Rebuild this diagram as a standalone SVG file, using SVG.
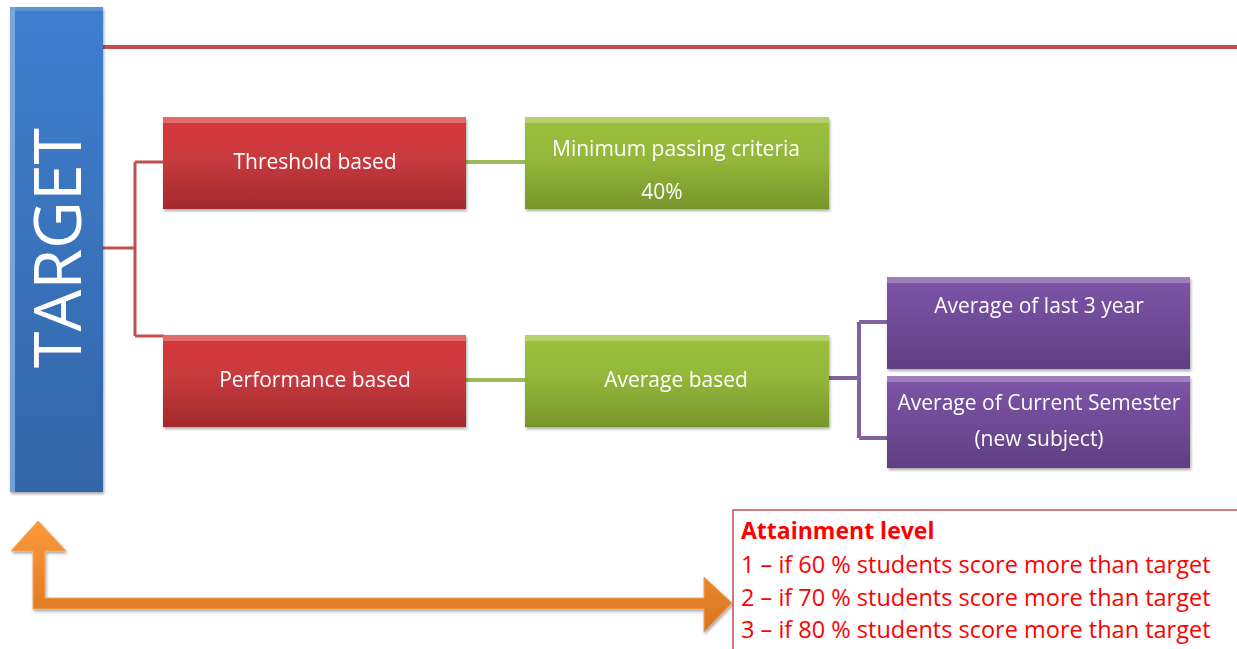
<svg xmlns="http://www.w3.org/2000/svg" width="1237" height="649" viewBox="0 0 1237 649">
  <style>
    .lbl { font-family: "Open Sans", "Liberation Sans", sans-serif; font-size: 21px; fill: #ffffff; text-anchor: middle; }
    .big { font-family: "Open Sans", "Liberation Sans", sans-serif; font-size: 66px; fill: #ffffff; text-anchor: middle; }
    .att { font-family: "Open Sans", "Liberation Sans", sans-serif; font-size: 23.5px; fill: #ff0000; }
    .attb { font-weight: bold; font-size: 23px; }
    .edge-red { fill: none; stroke: #c0504d; stroke-width: 3; }
    .edge-green { fill: none; stroke: #9bbb59; stroke-width: 4; }
    .edge-purple { fill: none; stroke: #8064a2; stroke-width: 4; }
    .hi { fill: #ffffff; opacity: 0.25; }
  </style>
  <defs>
    <linearGradient id="gBlue" x1="0" y1="0" x2="0" y2="1">
      <stop offset="0" stop-color="#3f7fcf"/>
      <stop offset="1" stop-color="#3366a8"/>
    </linearGradient>
    <linearGradient id="gRed" x1="0" y1="0" x2="0" y2="1">
      <stop offset="0" stop-color="#d8383a"/>
      <stop offset="0.45" stop-color="#c83a3e"/>
      <stop offset="1" stop-color="#a12a2c"/>
    </linearGradient>
    <linearGradient id="gGreen" x1="0" y1="0" x2="0" y2="1">
      <stop offset="0" stop-color="#9cc13b"/>
      <stop offset="0.45" stop-color="#93b73a"/>
      <stop offset="1" stop-color="#77962b"/>
    </linearGradient>
    <linearGradient id="gPurple" x1="0" y1="0" x2="0" y2="1">
      <stop offset="0" stop-color="#7d55a8"/>
      <stop offset="0.45" stop-color="#714c98"/>
      <stop offset="1" stop-color="#5e3f82"/>
    </linearGradient>
    <linearGradient id="gOrange" x1="0" y1="0" x2="0" y2="1">
      <stop offset="0" stop-color="#fb9a3a"/>
      <stop offset="1" stop-color="#d8741f"/>
    </linearGradient>
    <filter id="shadow" x="-10%" y="-10%" width="120%" height="130%">
      <feGaussianBlur in="SourceAlpha" stdDeviation="1.5"/>
      <feOffset dx="1" dy="2" result="b"/>
      <feComponentTransfer><feFuncA type="linear" slope="0.35"/></feComponentTransfer>
      <feMerge><feMergeNode/><feMergeNode in="SourceGraphic"/></feMerge>
    </filter>
  </defs>

  <!-- top rule -->
  <line x1="103" y1="47" x2="1237" y2="47" stroke="#c0504d" stroke-width="4"/>

  <!-- connectors -->
  <g id="connectors">
    <path class="edge-red" d="M103 248 H135 M135 162 V336 M135 162 H164 M135 336 H164"/>
    <line class="edge-green" x1="466" y1="162" x2="525" y2="162"/>
    <line class="edge-green" x1="466" y1="380" x2="525" y2="380"/>
    <path class="edge-purple" d="M829 378 H859 M859 322 V438 M859 322 H887 M859 438 H887"/>
  </g>

  <g id="target" filter="url(#shadow)">
    <rect x="10" y="7" width="93" height="485" fill="url(#gBlue)"/>
    <rect x="10" y="7" width="5" height="485" fill="#8fb9ec" opacity="0.7"/>
    <rect x="10" y="7" width="93" height="4" fill="#6f9fdc" opacity="0.6"/>
    <text class="big" transform="translate(81 248) rotate(-90)">TARGET</text>
  </g>

  <g id="threshold" filter="url(#shadow)">
    <rect x="163" y="117" width="303" height="92" fill="url(#gRed)"/>
    <rect class="hi" x="163" y="117" width="303" height="6"/>
    <text class="lbl" x="315" y="169">Threshold based</text>
  </g>

  <g id="performance" filter="url(#shadow)">
    <rect x="163" y="335" width="303" height="92" fill="url(#gRed)"/>
    <rect class="hi" x="163" y="335" width="303" height="6"/>
    <text class="lbl" x="315" y="387">Performance based</text>
  </g>

  <g id="minimum" filter="url(#shadow)">
    <rect x="525" y="117" width="304" height="92" fill="url(#gGreen)"/>
    <rect class="hi" x="525" y="117" width="304" height="6"/>
    <text class="lbl" x="676" y="156">Minimum passing criteria</text>
    <text class="lbl" x="662" y="199">40%</text>
  </g>

  <g id="average" filter="url(#shadow)">
    <rect x="525" y="335" width="304" height="92" fill="url(#gGreen)"/>
    <rect class="hi" x="525" y="335" width="304" height="6"/>
    <text class="lbl" x="676" y="387">Average based</text>
  </g>

  <g id="last3" filter="url(#shadow)">
    <rect x="887" y="277" width="303" height="92" fill="url(#gPurple)"/>
    <rect class="hi" x="887" y="277" width="303" height="6"/>
    <text class="lbl" x="1039" y="313">Average of last 3 year</text>
  </g>

  <g id="current" filter="url(#shadow)">
    <rect x="887" y="376" width="303" height="92" fill="url(#gPurple)"/>
    <rect class="hi" x="887" y="376" width="303" height="6"/>
    <text class="lbl" x="1039" y="410">Average of Current Semester</text>
    <text class="lbl" x="1039" y="446">(new subject)</text>
  </g>

  <!-- two-headed bent arrow -->
  <g id="arrow" filter="url(#shadow)">
    <polygon fill="url(#gOrange)" stroke="#f4a460" stroke-width="1"
      points="38,521 66,551 45,551 45,598 704,598 704,577 732,603 704,632 704,609 33,609 33,551 11,551"/>
  </g>

  <g id="attainment">
    <rect x="733" y="510" width="510" height="150" fill="#ffffff" stroke="#c0504d" stroke-width="1.5"/>
    <text class="att attb" x="741" y="539">Attainment level</text>
    <text class="att" x="741" y="573">1 – if 60 % students score more than target</text>
    <text class="att" x="741" y="606">2 – if 70 % students score more than target</text>
    <text class="att" x="741" y="638">3 – if 80 % students score more than target</text>
  </g>
</svg>
